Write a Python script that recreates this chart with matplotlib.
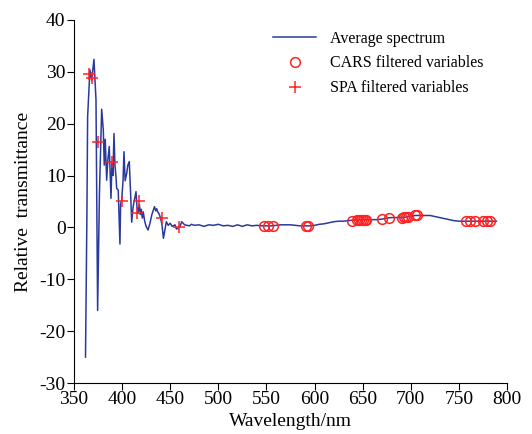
import numpy as np
import matplotlib
matplotlib.use("Agg")
from matplotlib import pyplot as plt

# average spectrum (wavelength nm, relative transmittance)
wl = [362, 363.5, 364.2, 366.6, 368.4, 370.8, 372.9, 374.6, 376.5, 378.8,
      380.5, 381.5, 382.5, 384, 385.2, 386.7, 387.4, 388.5, 389.5, 390.5,
      391.6, 392.6, 393.7, 394.4, 396, 397.8, 398.5, 399.6, 401, 402,
      403.2, 404.8, 406, 407.5, 409, 410, 411.5, 413, 414.5, 415.5,
      416.5, 418, 419, 420, 421, 422, 423.5, 425, 427, 429,
      431, 433.7, 435, 436, 437, 438.5, 440, 441.5, 443, 444.5,
      446, 448, 450, 452, 455, 456.5, 458, 460, 462, 465,
      470, 472, 475, 480, 485, 490,
      495, 500, 505, 510, 515, 520, 525, 530, 535, 540,
      545, 550, 555, 560, 565, 570, 575, 580, 585, 590,
      595, 600, 605, 610, 615, 620, 625, 630, 635, 640,
      645, 650, 655, 660, 665, 670, 675, 680, 685, 690,
      695, 700, 705, 710, 715, 720, 725, 730, 735, 740,
      745, 750, 755, 760, 765, 770, 775, 780, 785, 789]
spec = [-25, 3, 21.3, 30.4, 28.4, 32.4, 24.6, -16, 6.6, 22.8,
        18.8, 12, 17, 9.1, 13, 15.6, 11.8, 5.6, 12.7, 10,
        18.1, 12, 9.8, 7.5, 7.2, -3.2, 4.5, 5.3, 9, 14.6,
        9, 10.4, 12, 12.7, 6, 1.0, 4.0, 5.5, 6.9, 4,
        2.7, 4.5, 2.5, 3.5, 1.8, 3, 1.2, 0.2, -0.5, 0.8,
        2.5, 4.0, 3.2, 3.6, 3.0, 2.6, 1.8, 0.5, -2.1, -0.5,
        1.1, 0.4, 0.8, 0.2, 0.5, -0.3, -0.2, 0.1, 1.1, 0.5,
        0.3, 0.6, 0.4, 0.5, 0.2, 0.5,
        0.4, 0.6, 0.3, 0.4, 0.2, 0.5, 0.2, 0.5, 0.3, 0.4,
        0.3, 0.3, 0.3, 0.4, 0.5, 0.5, 0.5, 0.4, 0.3, 0.3,
        0.3, 0.4, 0.6, 0.7, 0.9, 1.1, 1.2, 1.2, 1.3, 1.4,
        1.5, 1.5, 1.5, 1.5, 1.5, 1.6, 1.8, 1.9, 1.9, 1.9,
        2.0, 2.2, 2.3, 2.3, 2.3, 2.3, 2.1, 1.9, 1.7, 1.5,
        1.3, 1.2, 1.2, 1.2, 1.2, 1.2, 1.2, 1.2, 1.2, 1.2]

# CARS selected wavelengths
cars_wl = [548, 552, 557, 591, 593, 639, 644, 646, 648, 650,
           652, 654, 670, 677, 691, 693, 695, 697, 704, 706,
           757, 762, 767, 775, 779, 782]
cars_y = [0.3, 0.3, 0.3, 0.3, 0.3, 1.3, 1.45, 1.45, 1.45, 1.5,
          1.5, 1.5, 1.6, 1.85, 1.9, 1.95, 1.95, 2.0, 2.3, 2.3,
          1.2, 1.2, 1.2, 1.2, 1.2, 1.2]

# SPA selected wavelengths
spa_wl = [365.9, 369, 374.6, 389.2, 399.6, 415.9, 417.9, 441, 459.5]
spa_y = [29.6, 28.9, 16.5, 12.7, 5.0, 2.7, 5.0, 1.75, 0.13]

plt.rcParams['font.family'] = ['Liberation Serif', 'DejaVu Serif']
plt.rcParams['axes.unicode_minus'] = False

fig = plt.figure(figsize=(5.32, 4.34), dpi=100)
ax = fig.add_axes([0.139, 0.1175, 0.814, 0.8365])

ax.plot(wl, spec, color='#2a3a9c', lw=1.1, label='Average spectrum')
ax.plot(cars_wl, cars_y, 'o', mfc='none', mec='#ff2222', ms=7, mew=1.1,
        label='CARS filtered variables')
ax.plot(spa_wl, spa_y, '+', color='#ff2222', ms=9, mew=1.1,
        label='SPA filtered variables')

ax.set_xlim(350, 800)
ax.set_ylim(-30, 40)
ax.set_xticks(np.arange(350, 801, 50))
ax.set_yticks(np.arange(-30, 41, 10))
ax.spines['top'].set_visible(False)
ax.spines['right'].set_visible(False)
ax.tick_params(labelsize=14, direction='out', length=5, pad=1)
ax.set_xlabel('Wavelength/nm', fontsize=14, labelpad=3)
ax.set_ylabel('Relative  transmittance', fontsize=14, labelpad=5)

ax.legend(loc='upper right', bbox_to_anchor=(0.98, 1.01), frameon=False,
          fontsize=11.5, handlelength=2.7, handletextpad=0.9, labelspacing=0.55)

fig.savefig('out.png', dpi=100)
